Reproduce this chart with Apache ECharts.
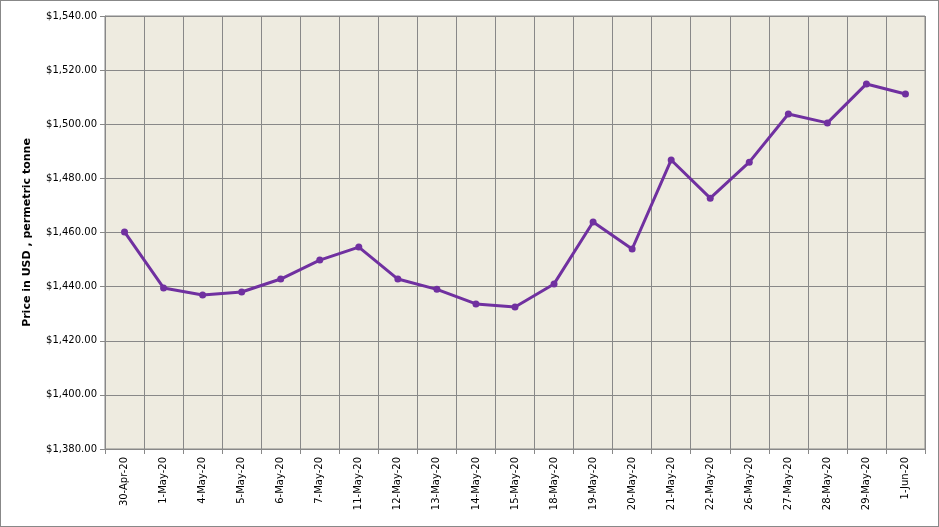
<!DOCTYPE html>
<html><head><meta charset="utf-8">
<script src="https://cdn.jsdelivr.net/npm/echarts@6/dist/echarts.min.js"></script>
<style>html,body{margin:0;padding:0;background:#fff}#c{width:937px;height:525px;border:1px solid #888}</style>
</head><body><div id="c"></div>
<script>
const categories=["30-Apr-20","1-May-20","4-May-20","5-May-20","6-May-20","7-May-20","11-May-20","12-May-20","13-May-20","14-May-20","15-May-20","18-May-20","19-May-20","20-May-20","21-May-20","22-May-20","26-May-20","27-May-20","28-May-20","29-May-20","1-Jun-20"];
const prices=[1460.2,1439.5,1436.9,1438,1442.8,1449.8,1454.6,1442.8,1439,1433.6,1432.5,1441,1463.9,1453.9,1486.8,1472.7,1486,1503.8,1500.5,1514.9,1511.2];
const chart=echarts.init(document.getElementById('c'));
chart.setOption({
  animation:false,
  grid:{left:104,right:13,top:15,bottom:77,show:true,backgroundColor:'#EEEBE0',borderColor:'#888',borderWidth:1},
  xAxis:{type:'category',data:categories,boundaryGap:true,
    axisLine:{lineStyle:{color:'#888'}},axisTick:{show:true,alignWithLabel:false,lineStyle:{color:'#888'}},
    splitLine:{show:true,lineStyle:{color:'#888',width:1}},
    axisLabel:{rotate:90,color:'#000',fontFamily:'DejaVu Sans',fontSize:10,interval:0,margin:8}},
  yAxis:{type:'value',min:1380,max:1540,interval:20,
    name:'Price in USD , permetric tonne',nameLocation:'middle',nameGap:72,
    nameTextStyle:{fontWeight:'bold',fontFamily:'DejaVu Sans',fontSize:11,color:'#000'},
    axisLine:{show:true,lineStyle:{color:'#888'}},axisTick:{show:true,lineStyle:{color:'#888'}},
    splitLine:{show:true,lineStyle:{color:'#888'}},
    axisLabel:{color:'#000',fontFamily:'DejaVu Sans',fontSize:10,
      formatter:v=>'$'+v.toLocaleString('en-US',{minimumFractionDigits:2,maximumFractionDigits:2})}},
  series:[{type:'line',data:prices,symbol:'circle',symbolSize:7,
    lineStyle:{color:'#7030A0',width:3},itemStyle:{color:'#7030A0'}}]
});
</script></body></html>
